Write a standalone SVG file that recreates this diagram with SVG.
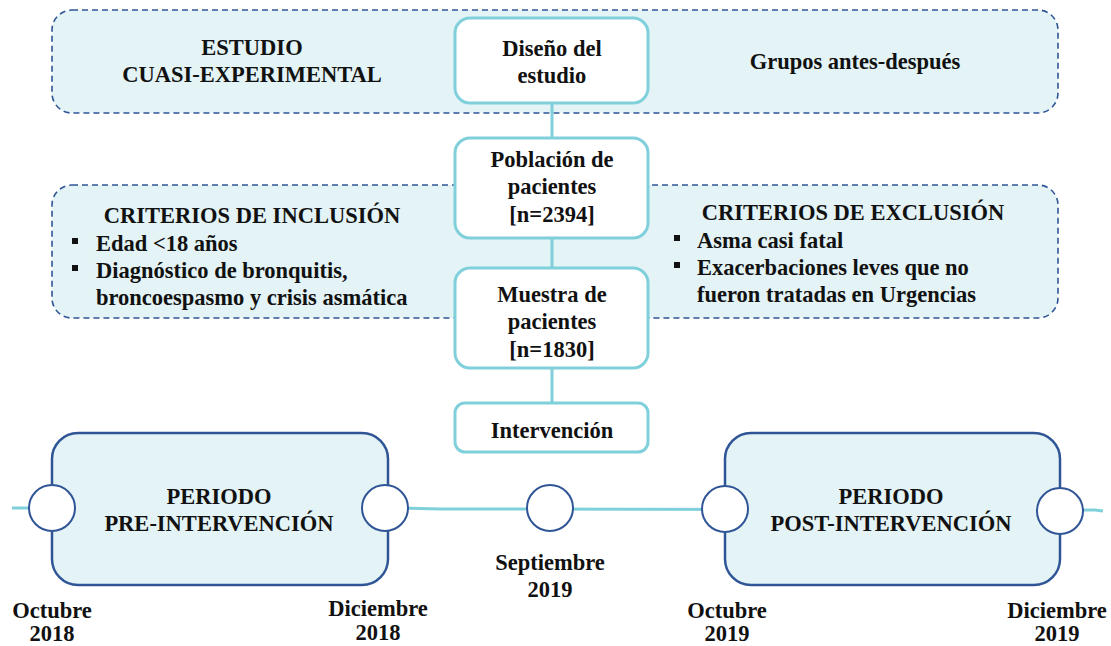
<svg xmlns="http://www.w3.org/2000/svg" width="1111" height="646" viewBox="0 0 1111 646">
<style>
text{font-family:"Liberation Serif","Times New Roman",serif;font-weight:bold;font-size:22.5px;fill:#111}
.c{text-anchor:middle}
.dash{fill:#e3f3f6;stroke:#2f5597;stroke-width:1.6;stroke-dasharray:6 4}
.node{fill:#fff;stroke:#80d0dc;stroke-width:3}
.period{fill:#e3f3f6;stroke:#2f5597;stroke-width:2.5}
.dot{fill:#fff;stroke:#2f5597;stroke-width:2}
.line{stroke:#80d0dc;stroke-width:3;fill:none}
.bul{fill:#111}
</style>
<g id="group-design">
<rect class="dash" x="52" y="10" width="1006" height="103" rx="20"/>
<text class="c" x="252" y="55">ESTUDIO</text>
<text class="c" x="252" y="82">CUASI-EXPERIMENTAL</text>
<text class="c" x="855" y="69">Grupos antes-después</text>
</g>
<g id="group-criteria">
<rect class="dash" x="52" y="185" width="1006" height="133" rx="20"/>
<text class="c" x="252" y="223">CRITERIOS DE INCLUSIÓN</text>
<rect class="bul" x="72" y="238" width="6" height="6"/>
<text x="96" y="251">Edad &lt;18 años</text>
<rect class="bul" x="72" y="265" width="6" height="6"/>
<text x="96" y="278">Diagnóstico de bronquitis,</text>
<text x="96" y="305">broncoespasmo y crisis asmática</text>
<text class="c" x="853" y="220">CRITERIOS DE EXCLUSIÓN</text>
<rect class="bul" x="674" y="235" width="6" height="6"/>
<text x="697" y="248">Asma casi fatal</text>
<rect class="bul" x="674" y="262" width="6" height="6"/>
<text x="697" y="275">Exacerbaciones leves que no</text>
<text x="697" y="302">fueron tratadas en Urgencias</text>
</g>
<g id="connectors">
<line class="line" x1="552" y1="103" x2="552" y2="138"/>
<line class="line" x1="552" y1="238" x2="552" y2="268"/>
<line class="line" x1="552" y1="368" x2="552" y2="403"/>
<polyline class="line" points="12,508 400,508 440,509 1095,510 1103,511"/>
</g>
<g id="node-diseno">
<rect class="node" x="455" y="18" width="193" height="85" rx="15"/>
<text class="c" x="552" y="56">Diseño del</text>
<text class="c" x="552" y="83">estudio</text>
</g>
<g id="node-poblacion">
<rect class="node" x="455" y="138" width="193" height="100" rx="15"/>
<text class="c" x="552" y="167">Población de</text>
<text class="c" x="552" y="194">pacientes</text>
<text class="c" x="552" y="222">[n=2394]</text>
</g>
<g id="node-muestra">
<rect class="node" x="455" y="268" width="193" height="100" rx="15"/>
<text class="c" x="552" y="302">Muestra de</text>
<text class="c" x="552" y="329">pacientes</text>
<text class="c" x="552" y="357">[n=1830]</text>
</g>
<g id="node-intervencion">
<rect class="node" x="455" y="403" width="193" height="49" rx="10"/>
<text class="c" x="552" y="438">Intervención</text>
</g>
<g id="node-pre">
<rect class="period" x="52" y="433" width="336" height="152" rx="26"/>
<text class="c" x="219" y="504">PERIODO</text>
<text class="c" x="219" y="531">PRE-INTERVENCIÓN</text>
</g>
<g id="node-post">
<rect class="period" x="725" y="433" width="335" height="152" rx="26"/>
<text class="c" x="891" y="504">PERIODO</text>
<text class="c" x="891" y="531">POST-INTERVENCIÓN</text>
</g>
<g id="timeline-points">
<circle class="dot" cx="52" cy="508" r="23"/>
<circle class="dot" cx="385" cy="508" r="23"/>
<circle class="dot" cx="550" cy="508" r="23"/>
<circle class="dot" cx="725" cy="509" r="23"/>
<circle class="dot" cx="1060" cy="511" r="23"/>
</g>
<g id="dates">
<text class="c" x="550" y="570">Septiembre</text>
<text class="c" x="550" y="597">2019</text>
<text class="c" x="52" y="618">Octubre</text>
<text class="c" x="52" y="641">2018</text>
<text class="c" x="378" y="616">Diciembre</text>
<text class="c" x="378" y="640">2018</text>
<text class="c" x="727" y="618">Octubre</text>
<text class="c" x="727" y="641">2019</text>
<text class="c" x="1057" y="618">Diciembre</text>
<text class="c" x="1057" y="641">2019</text>
</g>
</svg>
